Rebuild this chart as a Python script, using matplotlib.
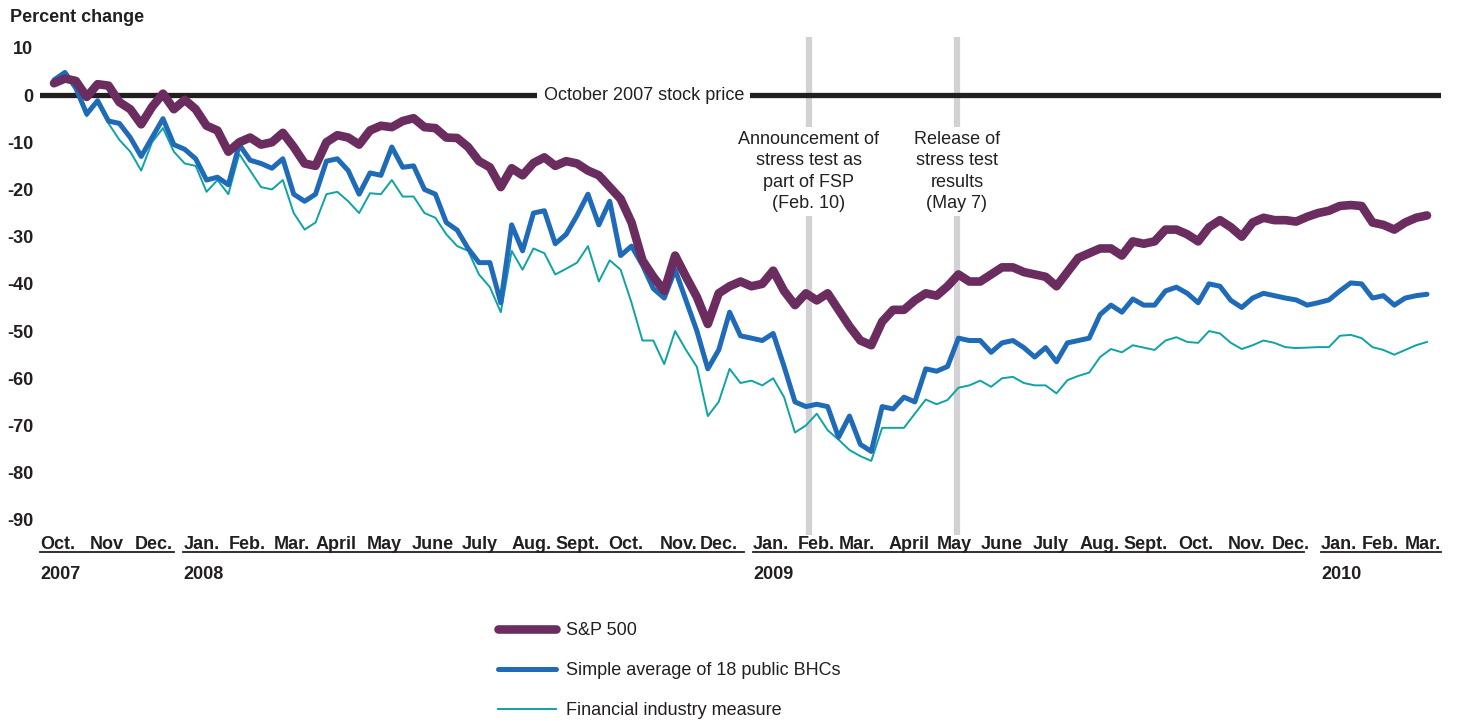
import matplotlib
matplotlib.use('Agg')
import matplotlib.pyplot as plt
import matplotlib.dates as mdates
import pandas as pd

plt.rcParams['font.family'] = ['Liberation Sans', 'DejaVu Sans']
plt.rcParams['axes.unicode_minus'] = False

# weekly readings, Oct 10 2007 .. Mar 2010 (percent change vs Oct 2007)
dates = pd.date_range('2007-10-10', periods=127, freq='7D')

sp500 = [2.5, 3.5, 3.0, -0.4, 2.3, 2.0, -1.5, -3.0, -6.2, -2.5,
         0.3, -3.0, -1.0, -3.0, -6.5, -7.5, -12.0, -10.0, -9.0, -10.5,
         -10.0, -8.0, -11.0, -14.5, -15.0, -10.0, -8.5, -9.0, -10.5, -7.5,
         -6.5, -6.8, -5.5, -4.9, -6.8, -7.0, -9.0, -9.1, -11.0, -14.0,
         -15.3, -19.5, -15.5, -17.0, -14.4, -13.2, -15.0, -14.0, -14.5, -16.0,
         -17.0, -19.5, -22.0, -27.0, -35.0, -38.5, -41.5, -34.0, -38.5, -42.8,
         -48.5, -42.0, -40.5, -39.5, -40.5, -40.0, -37.2, -41.5, -44.5, -42.0,
         -43.5, -42.0, -45.5, -49.0, -52.0, -53.0, -48.0, -45.5, -45.5, -43.5,
         -42.0, -42.5, -40.5, -38.0, -39.5, -39.5, -38.0, -36.5, -36.5, -37.5,
         -38.0, -38.5, -40.5, -37.5, -34.5, -33.5, -32.5, -32.5, -34.0, -31.0,
         -31.5, -31.0, -28.5, -28.5, -29.5, -31.0, -28.0, -26.5, -28.0, -30.0,
         -27.0, -26.0, -26.5, -26.5, -26.8, -25.8, -25.0, -24.5, -23.5, -23.3,
         -23.5, -27.0, -27.5, -28.5, -27.0, -26.0, -25.5]

bhc_avg = [3.2, 4.8, 1.5, -4.0, -1.2, -5.5, -6.0, -9.0, -13.0, -9.0,
           -5.0, -10.5, -11.5, -13.5, -18.0, -17.4, -19.0, -10.5, -13.8, -14.5,
           -15.5, -13.5, -21.0, -22.5, -21.0, -14.0, -13.5, -16.0, -21.0, -16.5,
           -17.0, -11.0, -15.3, -15.0, -20.0, -21.0, -27.0, -28.6, -32.5, -35.5,
           -35.5, -44.0, -27.5, -33.0, -25.0, -24.5, -31.5, -29.5, -25.5, -21.0,
           -27.5, -22.5, -34.0, -32.0, -36.0, -41.0, -43.0, -37.0, -43.5, -50.0,
           -58.0, -54.0, -46.0, -51.0, -51.5, -52.0, -50.5, -57.5, -65.0, -66.0,
           -65.5, -66.0, -72.5, -68.0, -74.0, -75.5, -66.0, -66.5, -64.0, -65.0,
           -58.0, -58.5, -57.5, -51.5, -52.0, -52.0, -54.5, -52.5, -52.0, -53.5,
           -55.5, -53.5, -56.5, -52.5, -52.0, -51.5, -46.5, -44.5, -46.0, -43.2,
           -44.5, -44.5, -41.5, -40.7, -42.0, -44.0, -40.0, -40.5, -43.5, -45.0,
           -43.0, -42.0, -42.5, -43.0, -43.4, -44.5, -44.0, -43.4, -41.5, -39.8,
           -40.0, -43.0, -42.5, -44.5, -43.0, -42.5, -42.2]

fin_measure = [3.2, 4.8, 1.0, -4.5, -1.5, -6.0, -9.5, -12.0, -16.0, -10.0,
               -7.0, -12.0, -14.5, -15.0, -20.5, -18.0, -21.0, -12.5, -16.0, -19.5,
               -20.0, -18.0, -25.0, -28.5, -27.0, -21.0, -20.5, -22.5, -25.0, -20.8,
               -21.0, -18.0, -21.5, -21.5, -25.0, -26.0, -29.5, -32.0, -33.0, -38.0,
               -40.7, -46.0, -33.0, -37.0, -32.5, -33.5, -38.0, -36.8, -35.5, -32.0,
               -39.5, -35.0, -37.0, -44.0, -52.0, -52.0, -57.0, -50.0, -54.0, -57.6,
               -68.0, -65.0, -58.0, -61.0, -60.5, -61.5, -60.0, -64.0, -71.5, -70.0,
               -67.5, -71.0, -73.0, -75.2, -76.5, -77.5, -70.5, -70.5, -70.5, -67.5,
               -64.5, -65.5, -64.6, -62.0, -61.5, -60.5, -61.8, -60.0, -59.7, -61.0,
               -61.5, -61.5, -63.2, -60.4, -59.5, -58.8, -55.5, -53.8, -54.5, -53.0,
               -53.5, -54.0, -52.0, -51.3, -52.3, -52.5, -50.0, -50.5, -52.5, -53.8,
               -53.0, -52.0, -52.5, -53.4, -53.6, -53.5, -53.4, -53.4, -51.0, -50.8,
               -51.5, -53.4, -54.0, -55.0, -54.0, -53.0, -52.3]

series_labels = ['S&P 500', 'Simple average of 18 public BHCs', 'Financial industry measure']

event_dates = ['2009-02-06', '2009-05-12']
event_texts = ['Announcement of\nstress test as\npart of FSP\n(Feb. 10)',
               'Release of\nstress test\nresults\n(May 7)']

month_starts = pd.date_range('2007-10-01', '2010-03-01', freq='MS')
month_names = ['Oct.', 'Nov', 'Dec.',
               'Jan.', 'Feb.', 'Mar.', 'April', 'May', 'June', 'July', 'Aug.', 'Sept.', 'Oct.', 'Nov.', 'Dec.',
               'Jan.', 'Feb.', 'Mar.', 'April', 'May', 'June', 'July', 'Aug.', 'Sept.', 'Oct.', 'Nov.', 'Dec.',
               'Jan.', 'Feb.', 'Mar.']
# the printed labels sit a few days off the month starts
label_shift_days = [0, 1, 0,
                    0, -2, -2, -6, -3, -5, -3, -2, -5, -1, 1, -3,
                    0, -2, -4, -3, -2, -5, -1, -2, -5, 0, 1, -1,
                    0, -5, -5]
years = ['2007', '2008', '2009', '2010']
year_spans = [('2007-10-01', '2007-12-26'), ('2008-01-01', '2008-12-26'),
              ('2009-01-01', '2009-12-21'), ('2010-01-01', '2010-03-19')]

yticks = list(range(-90, 11, 10))

dark = '#231f20'
c_sp = '#6b2c5f'
c_bhc = '#1f6bb8'
c_fin = '#0fa3a3'

fig = plt.figure(figsize=(14.59, 7.21), dpi=100)
ax = fig.add_axes([40 / 1459, 1 - 535 / 721, 1401 / 1459, 498 / 721])

x = mdates.date2num(dates)
l3, = ax.plot(x, fin_measure, color=c_fin, lw=1.4, zorder=3)
l2, = ax.plot(x, bhc_avg, color=c_bhc, lw=3.6, zorder=4,
              solid_capstyle='round', solid_joinstyle='round')
l1, = ax.plot(x, sp500, color=c_sp, lw=6.2, zorder=5,
              solid_capstyle='round', solid_joinstyle='round')

# zero reference line
ax.axhline(0, color=dark, lw=3.8, zorder=2)
ax.text(mdates.date2num(pd.Timestamp('2008-10-23')), 0, 'October 2007 stock price',
        ha='center', va='center', fontsize=13, color=dark, zorder=2.5,
        bbox=dict(boxstyle='square,pad=0.35', fc='white', ec='none'))

# event bars
for d, t in zip(event_dates, event_texts):
    xd = mdates.date2num(pd.Timestamp(d))
    ax.axvline(xd, color='#d2d2d4', lw=4.5, zorder=1)
    ax.text(xd, -16.2, t, ha='center', va='center', fontsize=13, color=dark,
            linespacing=1.35, zorder=1.5,
            bbox=dict(boxstyle='square,pad=0.2', fc='white', ec='none'))

ax.set_xlim(mdates.date2num(pd.Timestamp('2007-10-01')), mdates.date2num(pd.Timestamp('2010-03-19')))
ax.set_ylim(-93.2, 12.3)

ax.set_yticks(yticks)
ax.set_yticklabels([str(v) for v in yticks], fontsize=13, fontweight='bold', color=dark)
label_pos = [m + pd.Timedelta(days=s) for m, s in zip(month_starts, label_shift_days)]
ax.set_xticks(mdates.date2num(label_pos))
ax.set_xticklabels(month_names, fontsize=13, fontweight='bold', color=dark, ha='left')
ax.tick_params(axis='y', length=0, pad=5)
ax.tick_params(axis='x', length=0, pad=1)
for s in ax.spines.values():
    s.set_visible(False)

# year rules and labels under the months
tr = ax.get_xaxis_transform()
for yr, (a, b) in zip(years, year_spans):
    xa = mdates.date2num(pd.Timestamp(a))
    xb = mdates.date2num(pd.Timestamp(b))
    ax.plot([xa, xb], [-0.034, -0.034], transform=tr, color=dark, lw=1.3, clip_on=False)
    ax.text(xa, -0.080, yr, transform=tr, ha='left', va='center', fontsize=13,
            fontweight='bold', color=dark)

fig.text(10 / 1459, 1 - 18 / 721, 'Percent change', ha='left', va='center',
         fontsize=13, fontweight='bold', color=dark)

fig.legend([l1, l2, l3], series_labels, loc='upper left',
           bbox_to_anchor=(498 / 1459, 1 - 622 / 721), frameon=False,
           borderpad=0, borderaxespad=0, handlelength=3.2, handletextpad=0.55,
           labelspacing=1.28, fontsize=13, labelcolor=dark)

fig.savefig('out.png', dpi=100)
